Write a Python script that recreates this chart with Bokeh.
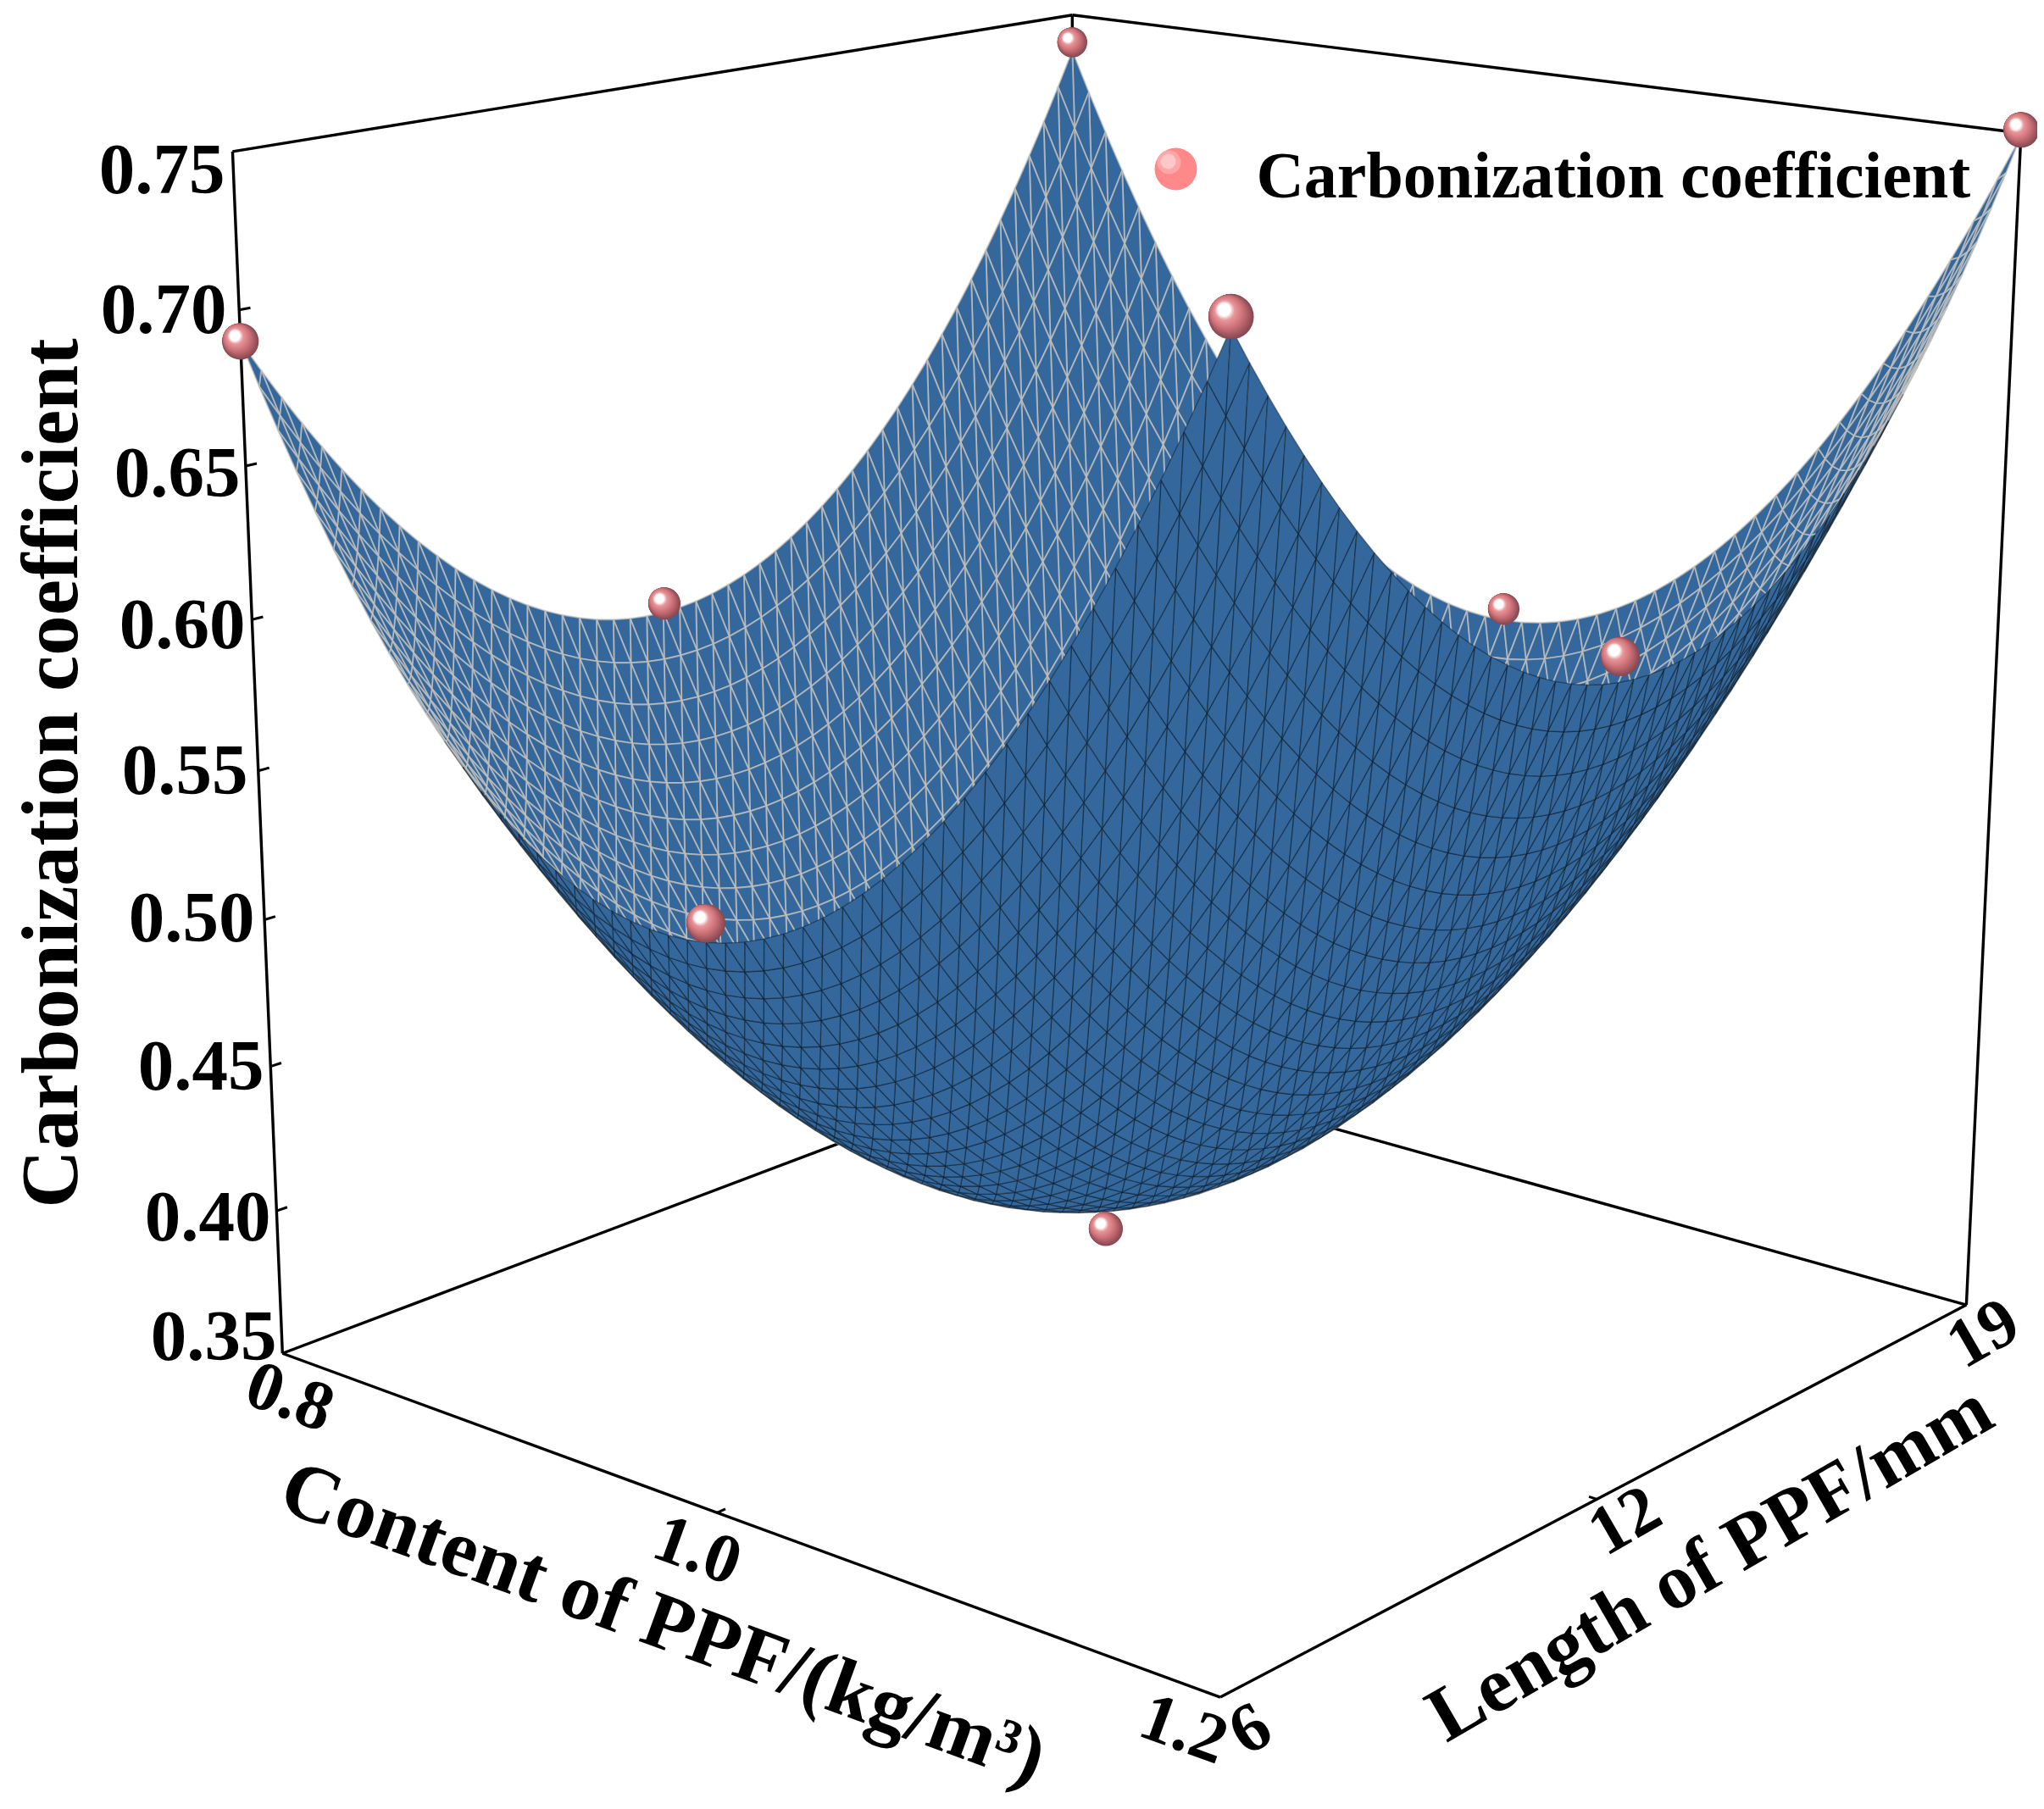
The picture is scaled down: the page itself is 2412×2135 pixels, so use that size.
from bokeh.plotting import figure
from bokeh.models import Range1d, ColumnDataSource
from bokeh.embed import file_html
from bokeh.resources import INLINE
from bokeh.core.properties import value
import numpy as np

content = [0.8, 1.0, 1.2]
length = [6, 12, 19]
z_ticks = [0.35, 0.40, 0.45, 0.50, 0.55, 0.60, 0.65, 0.70, 0.75]
z_labels = ["0.35", "0.40", "0.45", "0.50", "0.55", "0.60", "0.65", "0.70", "0.75"]
# measured points: rows = content, columns = length
measured_z = [[0.690, 0.570, 0.740],
              [0.540, 0.390, 0.560],
              [0.750, 0.620, 0.751]]
# fitted response surface nodal values
fitted_z = [[0.690, 0.567, 0.737],
            [0.534, 0.400, 0.556],
            [0.747, 0.612, 0.749]]

# camera calibration (u, v, t) -> reference pixel
calib = [(0, 0, 0, 334, 1596), (1, 0, 0, 1440, 2005), (1, 1, 0, 2318, 1537),
         (0, 1, 0, 1268, 1248), (0, 0, 1, 275, 179), (1, 1, 1, 2386, 157),
         (0, 1, 1, 1262, 16), (0, 0, 0.875, 283, 366), (0, 0, 0.125, 322, 1426)]
A = []
for u, v, t, px, py in calib:
    X = [u, v, t, 1]
    sx, sy = px / 1000, py / 1000
    A.append(X + [0, 0, 0, 0] + [-sx * c for c in X])
    A.append([0, 0, 0, 0] + X + [-sy * c for c in X])
P = np.linalg.svd(np.array(A, float))[2][-1].reshape(3, 4)
if P[2, 3] < 0:
    P = -P

def norm(c, l, z):
    return (np.asarray(c, float) - 0.8) / 0.4, (np.asarray(l, float) - 6) / 13, (np.asarray(z, float) - 0.35) / 0.4

def proj(c, l, z):
    u, v, t = norm(c, l, z)
    w = P[2, 0] * u + P[2, 1] * v + P[2, 2] * t + P[2, 3]
    x = (P[0, 0] * u + P[0, 1] * v + P[0, 2] * t + P[0, 3]) / w * 1000
    y = (P[1, 0] * u + P[1, 1] * v + P[1, 2] * t + P[1, 3]) / w * 1000
    return x, -y, w

p = figure(width=2404, height=2127, x_range=Range1d(0, 2404), y_range=Range1d(-2127, 0),
           output_backend="svg", toolbar_location=None, min_border=0)
p.axis.visible = False
p.grid.visible = False
p.outline_line_color = None
p.background_fill_color = "white"

SERIF = value("Liberation Serif")

def seg(a, b, width=3.4):
    xa, ya, _ = proj(*a)
    xb, yb, _ = proj(*b)
    p.line([float(xa), float(xb)], [float(ya), float(yb)], line_color="black", line_width=width)

c0, c1 = content[0], content[-1]
l0, l1 = length[0], length[-1]
z0, z1 = z_ticks[0], z_ticks[-1]
for a, b in [((c0, l0, z0), (c1, l0, z0)), ((c1, l0, z0), (c1, l1, z0)), ((c0, l0, z0), (c0, l1, z0)),
             ((c1, l1, z0), (c0, l1, z0)), ((c0, l0, z0), (c0, l0, z1)), ((c1, l1, z0), (c1, l1, z1)),
             ((c0, l0, z1), (c0, l1, z1)), ((c0, l1, z1), (c1, l1, z1)), ((c0, l1, z0), (c0, l1, z1))]:
    seg(a, b)
for z in z_ticks[1:-1]:
    seg((c0, l0, z), (c0, l0 + 0.15, z), 3)
seg((content[1], l0, z0), (content[1], l0 + 0.12, z0), 3)
seg((c1, length[1], z0), (c1 - 0.003, length[1], z0), 3)

# surface
N = 50
def lag(nodes, q):
    n0, n1, n2 = nodes
    return np.array([(q - n1) * (q - n2) / ((n0 - n1) * (n0 - n2)),
                     (q - n0) * (q - n2) / ((n1 - n0) * (n1 - n2)),
                     (q - n0) * (q - n1) / ((n2 - n0) * (n2 - n1))])
cg = np.linspace(c0, c1, N + 1)
lg = np.linspace(l0, l1, N + 1)
Zg = lag(content, cg).T @ np.array(fitted_z) @ lag(length, lg)
CC, LL = np.meshgrid(cg, lg, indexing="ij")
SX, SY, SW = proj(CC, LL, Zg)

tris = []
for i in range(N):
    for j in range(N):
        for idx in (((i, j), (i + 1, j), (i, j + 1)), ((i + 1, j), (i + 1, j + 1), (i, j + 1))):
            xs = [float(SX[k]) for k in idx]
            ys = [float(SY[k]) for k in idx]
            d = float(np.mean([SW[k] for k in idx]))
            cross = (xs[1] - xs[0]) * (ys[2] - ys[0]) - (xs[2] - xs[0]) * (ys[1] - ys[0])
            tris.append((d, xs, ys, cross > 0))
tris.sort(key=lambda r: -r[0])
src = ColumnDataSource(dict(
    xs=[r[1] for r in tris], ys=[r[2] for r in tris],
    lc=["#d0c8c0" if r[3] else "#000000" for r in tris],
    la=[0.66 if r[3] else 0.36 for r in tris],
    lw=[1.9 if r[3] else 1.4 for r in tris]))
p.patches("xs", "ys", source=src, fill_color="#34689c", line_color="lc", line_alpha="la", line_width="lw")

# spheres: stacked discs, dark rim lower right, highlight upper left
sc = [c for c in content for _ in length]
sl = [l for _ in content for l in length]
sz = [z for row in measured_z for z in row]
bx, by, bw = proj(sc, sl, sz)
wm = np.mean(bw)
br = 21 * (wm / bw) ** 1.3
t_s = [0, 0.5, 0.8, 0.92, 1]
r_s = [1, 0.72, 0.46, 0.34, 0.28]
o_s = [0, 0.28, 0.38, 0.42, 0.43]
c_s = [(136, 72, 80), (208, 116, 122), (232, 150, 154), (252, 226, 228), (255, 255, 255)]
for t in np.linspace(0, 1, 22):
    col = [int(np.interp(t, t_s, [s[k] for s in c_s])) for k in range(3)]
    rad = br * np.interp(t, t_s, r_s)
    off = br * np.interp(t, t_s, o_s) * 0.707
    p.circle((bx - off).tolist(), (by + off).tolist(), radius=rad.tolist(),
             fill_color="#%02x%02x%02x" % tuple(col), line_color=None)

# legend marker
for r, dd, col in [(25, 0, "#ff8888"), (14, 8, "#ffa6a6"), (9, 9, "#ffc8c8")]:
    p.circle([1387 - dd], [-199 + dd], radius=r, fill_color=col, line_color=None)
p.text([1482], [-206], text=["Carbonization coefficient"], text_font=SERIF, text_font_style="bold",
       text_font_size="78px", text_baseline="middle", text_align="left", text_color="black")

# z tick labels
zr = [326, 319, 311, 300, 292, 289, 283, 267, 265]
zy = [1576, 1435, 1257, 1082, 908, 736, 557, 364, 199]
p.text(zr, [-y for y in zy], text=z_labels, text_font=SERIF, text_font_style="bold", text_font_size="85px",
       text_align="right", text_baseline="middle", text_color="black")

def label(x, y, s, size, ang):
    p.text([x], [-y], text=[s], text_font=SERIF, text_font_style="bold", text_font_size=f"{size}px",
           text_align="center", text_baseline="middle", angle=ang, angle_units="deg", text_color="black")

label(58, 912, "Carbonization coefficient", 95, 90)
label(783, 1913, "Content of PPF/(kg/m\u00b3)", 95, -20)
label(2016, 1842, "Length of PPF/mm", 92, 30)
label(342, 1647, "0.8", 82, -20)
label(823, 1828, "1.0", 82, -20)
label(1397, 2039, "1.2", 82, -20)
label(1474, 2039, "6", 82, 30)
label(1916, 1793, "12", 82, 30)
label(2339, 1572, "19", 82, 30)

open("out.html", "w").write(file_html(p, INLINE))
